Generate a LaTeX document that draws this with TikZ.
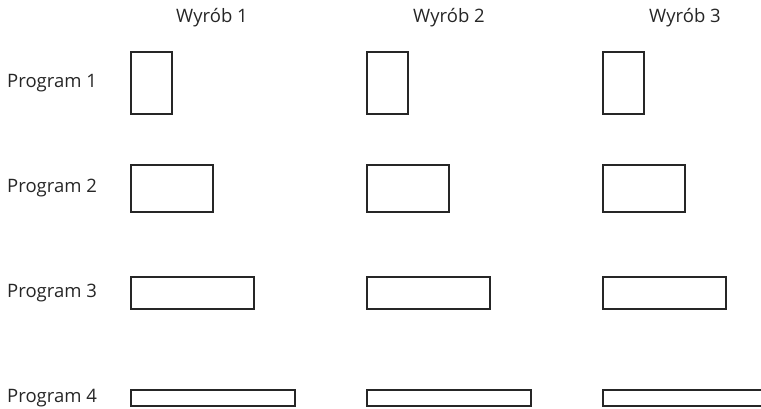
\documentclass[tikz,border=0pt]{standalone}
\usepackage{fontspec}
\setmainfont{Open Sans}
\begin{document}
\begin{tikzpicture}[x=1pt,y=-1pt,
  box/.style={draw=black!85, line width=1.3pt, inner sep=0pt, outer sep=0pt, anchor=north west},
  lbl/.style={inner sep=0pt, font=\fontsize{18.5}{21}\selectfont, text=black!85}]
\useasboundingbox (0,0) rectangle (761,409);
\clip (0,0) rectangle (761,409);
% headers
\node[lbl] (w1) at (212,18) {Wyrób 1};
\node[lbl] (w2) at (449,18) {Wyrób 2};
\node[lbl] (w3) at (685,18) {Wyrób 3};
% row labels
\node[lbl, anchor=west] (p1) at (7,83) {Program 1};
\node[lbl, anchor=west] (p2) at (7,188) {Program 2};
\node[lbl, anchor=west] (p3) at (7,293) {Program 3};
\node[lbl, anchor=west] (p4) at (7,398) {Program 4};
% boxes
\foreach \c/\x in {1/131,2/367,3/603}{
  \node[box, minimum width=41pt, minimum height=62pt] (b1\c) at (\x,52) {};
  \node[box, minimum width=82pt, minimum height=47pt] (b2\c) at (\x,165) {};
  \node[box, minimum width=123pt, minimum height=32pt] (b3\c) at (\x,277) {};
}
\node[box, minimum width=164pt, minimum height=16pt] (b41) at (131,390) {};
\node[box, minimum width=164pt, minimum height=16pt] (b42) at (367,390) {};
\node[box, minimum width=170pt, minimum height=16pt] (b43) at (603,390) {};
\end{tikzpicture}
\end{document}
